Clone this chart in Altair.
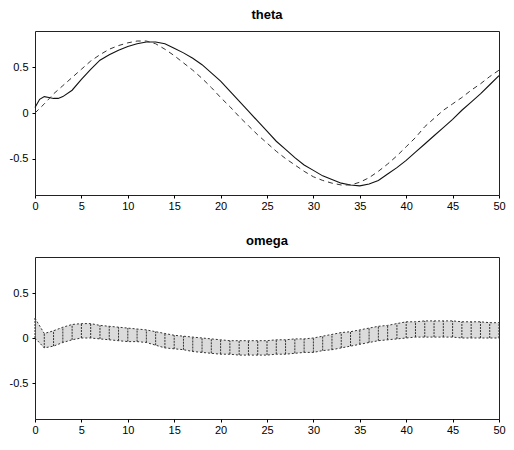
import altair as alt
import pandas as pd

# ---- data ----
t_theta = [0, 0.5, 1, 1.5, 2, 2.5, 3, 4, 5, 6, 7, 8, 9, 10, 11, 12, 13, 14, 15, 16, 17, 18, 19, 20,
           21, 22, 23, 24, 25, 26, 27, 28, 29, 30, 31, 32, 33, 34, 35, 36, 37, 38, 39, 40,
           41, 42, 43, 44, 45, 46, 47, 48, 49, 50]
theta_actual = [0.06, 0.15, 0.18, 0.17, 0.16, 0.16, 0.18, 0.25, 0.37, 0.48, 0.58, 0.64, 0.69, 0.73,
                0.76, 0.78, 0.78, 0.76, 0.71, 0.66, 0.60, 0.53, 0.44, 0.35, 0.24, 0.13, 0.02, -0.09,
                -0.20, -0.31, -0.40, -0.49, -0.57, -0.63, -0.69, -0.73, -0.77, -0.79, -0.80, -0.78,
                -0.74, -0.67, -0.60, -0.52, -0.43, -0.34, -0.25, -0.16, -0.07, 0.03, 0.12, 0.21,
                0.31, 0.41]

t_ref = list(range(0, 51))
theta_ref = [0.0, 0.10, 0.21, 0.30, 0.39, 0.48, 0.57, 0.64, 0.70, 0.74, 0.77, 0.79, 0.79, 0.76,
             0.70, 0.63, 0.55, 0.47, 0.38, 0.28, 0.17, 0.07, -0.04, -0.14, -0.24, -0.33, -0.42,
             -0.50, -0.57, -0.64, -0.70, -0.74, -0.77, -0.79, -0.79, -0.76, -0.71, -0.64, -0.56,
             -0.47, -0.37, -0.27, -0.15, -0.06, 0.03, 0.10, 0.17, 0.25, 0.32, 0.40, 0.47]

t_omega = list(range(0, 51))
omega_upper = [0.22, 0.05, 0.08, 0.12, 0.15, 0.16, 0.16, 0.14, 0.13, 0.12, 0.11, 0.10, 0.09, 0.07,
               0.05, 0.03, 0.02, 0.01, 0.0, -0.01, -0.02, -0.03, -0.03, -0.03, -0.03, -0.03, -0.02,
               -0.02, -0.01, -0.01, 0.0, 0.02, 0.04, 0.06, 0.07, 0.09, 0.11, 0.13, 0.14, 0.16, 0.18,
               0.18, 0.19, 0.19, 0.19, 0.19, 0.18, 0.18, 0.18, 0.17, 0.17]
omega_lower = [0.0, -0.11, -0.09, -0.05, -0.02, 0.0, 0.0, -0.01, -0.02, -0.03, -0.04, -0.04, -0.05,
               -0.08, -0.11, -0.12, -0.13, -0.15, -0.16, -0.17, -0.18, -0.18, -0.19, -0.19, -0.19,
               -0.19, -0.18, -0.18, -0.17, -0.16, -0.16, -0.14, -0.13, -0.11, -0.09, -0.07, -0.05,
               -0.03, -0.02, -0.01, 0.0, 0.01, 0.01, 0.01, 0.01, 0.01, 0.0, 0.0, 0.0, 0.0, 0.0]

x_ticks = list(range(0, 51, 5))
y_ticks = [-0.5, 0, 0.5]

df_act = pd.DataFrame({"t": t_theta, "v": theta_actual})
df_ref = pd.DataFrame({"t": t_ref, "v": theta_ref})
df_om = pd.DataFrame({"t": t_omega, "up": omega_upper, "lo": omega_lower})

label_expr = ("datum.value == 0 ? '0' : (datum.value < 0 ? '-' + format(-datum.value, '.1f') "
              ": format(datum.value, '.1f'))")

xs = alt.Scale(domain=[0, 50], nice=False, zero=False)
ys = alt.Scale(domain=[-0.9, 0.9], nice=False)
xax = alt.Axis(values=x_ticks, title=None, grid=False, labelFlush=False, labelPadding=2)
yax = alt.Axis(values=y_ticks, title=None, grid=False, labelExpr=label_expr, labelPadding=4)

W = 464

solid = alt.Chart(df_act).mark_line(color="#111111", strokeWidth=1.1).encode(
    x=alt.X("t:Q", scale=xs, axis=xax),
    y=alt.Y("v:Q", scale=ys, axis=yax),
)
dashed = alt.Chart(df_ref).mark_line(color="#333333", strokeWidth=1, strokeDash=[5, 4]).encode(
    x=alt.X("t:Q", scale=xs, axis=xax),
    y=alt.Y("v:Q", scale=ys, axis=yax),
)
top = alt.layer(solid, dashed).properties(width=W, height=164, title="theta")

band = alt.Chart(df_om).mark_area(color="#b0b0b0", opacity=0.45).encode(
    x=alt.X("t:Q", scale=xs, axis=xax),
    y=alt.Y("lo:Q", scale=ys, axis=yax),
    y2="up:Q",
)
rules = alt.Chart(df_om).mark_rule(color="#333333", strokeWidth=1, strokeDash=[2, 1]).encode(
    x=alt.X("t:Q", scale=xs, axis=xax),
    y=alt.Y("lo:Q", scale=ys, axis=yax),
    y2="up:Q",
)
up_line = alt.Chart(df_om).mark_line(color="#333333", strokeWidth=1, strokeDash=[2, 2]).encode(
    x=alt.X("t:Q", scale=xs, axis=xax),
    y=alt.Y("up:Q", scale=ys, axis=yax),
)
lo_line = alt.Chart(df_om).mark_line(color="#333333", strokeWidth=1, strokeDash=[2, 2]).encode(
    x=alt.X("t:Q", scale=xs, axis=xax),
    y=alt.Y("lo:Q", scale=ys, axis=yax),
)
bottom = alt.layer(band, rules, up_line, lo_line).properties(width=W, height=162, title="omega")

chart = alt.vconcat(top, bottom, spacing=22).configure_axis(
    labelFont="Liberation Sans", labelFontSize=11, labelColor="black",
    tickColor="black", tickSize=3, domain=False,
).configure_view(stroke="#222222", strokeWidth=1).configure_title(
    font="Liberation Sans", fontSize=13, fontWeight="bold", color="black", offset=9, anchor="middle"
).properties(background="white", padding={"left": 0, "right": 0, "top": 0, "bottom": 0})

chart.save("out.html", embed_options={"renderer": "svg", "actions": False})
